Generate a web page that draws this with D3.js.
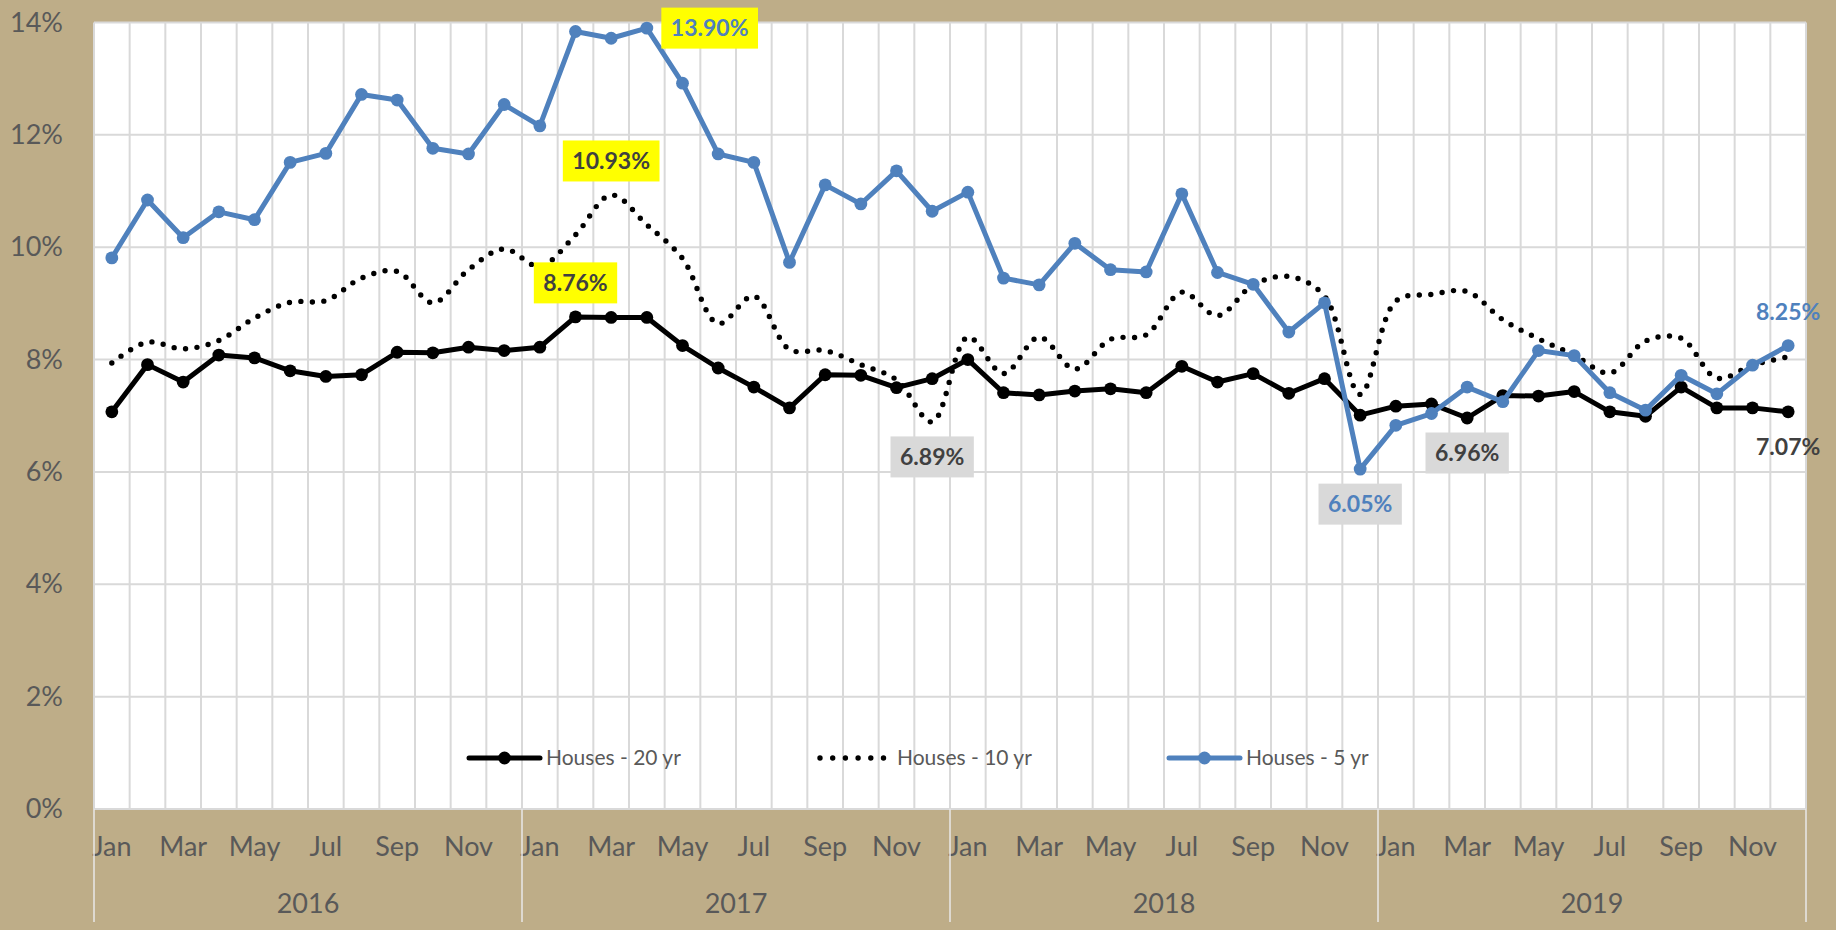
<!DOCTYPE html>
<html>
<head>
<meta charset="utf-8">
<script src="https://cdn.jsdelivr.net/npm/d3@7"></script>
<style>
  body { margin: 0; background: #bead88; }
  svg { display: block; font-family: Lato, "Open Sans", sans-serif; }
</style>
</head>
<body>
<svg id="chart" width="1836" height="930"></svg>
<script>
// data (percent)
const months = ["Jan", "Feb", "Mar", "Apr", "May", "Jun", "Jul", "Aug", "Sep", "Oct", "Nov", "Dec"];
const years = ["2016", "2017", "2018", "2019"];
const yTicks = [0, 2, 4, 6, 8, 10, 12, 14];

const houses20 = [7.07, 7.91, 7.60, 8.08, 8.03, 7.80, 7.70, 7.73, 8.13, 8.12, 8.22, 8.16,
  8.22, 8.76, 8.75, 8.75, 8.25, 7.85, 7.51, 7.14, 7.73, 7.72, 7.50, 7.66,
  8.00, 7.41, 7.37, 7.44, 7.48, 7.41, 7.88, 7.60, 7.75, 7.40, 7.66, 7.01,
  7.17, 7.21, 6.96, 7.36, 7.35, 7.43, 7.07, 6.99, 7.51, 7.14, 7.14, 7.07];
const houses10 = [7.94, 8.31, 8.19, 8.34, 8.74, 9.02, 9.05, 9.45, 9.57, 9.01, 9.60, 9.97,
  9.66, 10.22, 10.93, 10.40, 9.80, 8.64, 9.13, 8.18, 8.16, 7.91, 7.64, 6.89,
  8.40, 7.75, 8.40, 7.83, 8.36, 8.44, 9.20, 8.78, 9.33, 9.48, 9.13, 7.38,
  9.04, 9.16, 9.21, 8.71, 8.37, 8.08, 7.76, 8.33, 8.38, 7.67, 7.90, 8.05];
const houses5 = [9.81, 10.84, 10.17, 10.63, 10.49, 11.51, 11.67, 12.72, 12.62, 11.76, 11.66, 12.54,
  12.16, 13.84, 13.72, 13.90, 12.92, 11.66, 11.51, 9.73, 11.11, 10.77, 11.36, 10.64,
  10.98, 9.45, 9.33, 10.07, 9.60, 9.56, 10.95, 9.55, 9.34, 8.49, 9.01, 6.05,
  6.83, 7.04, 7.51, 7.25, 8.16, 8.07, 7.41, 7.10, 7.72, 7.39, 7.90, 8.25];

const seriesNames = ["Houses - 20 yr", "Houses - 10 yr", "Houses - 5 yr"];

// which points get a callout
const callouts = [
  { series: 0, index: 13, side: "above", fill: "#ffff00" },
  { series: 1, index: 14, side: "above", fill: "#ffff00" },
  { series: 2, index: 15, side: "right", fill: "#ffff00" },
  { series: 1, index: 23, side: "below", fill: "#d9d9d9" },
  { series: 2, index: 35, side: "below", fill: "#d9d9d9" },
  { series: 0, index: 38, side: "below", fill: "#d9d9d9" },
  { series: 0, index: 47, side: "below", fill: "none" },
  { series: 2, index: 47, side: "above", fill: "none" },
];

const blue = "#4f81bd";
const axisGrey = "#595959";
const labelDark = "#404040";

const plotLeft = 94, plotRight = 1806, plotTop = 22.5, plotBottom = 809;
const svg = d3.select("#chart");

const n = houses20.length;
const x = d3.scaleBand().domain(d3.range(n)).range([plotLeft, plotRight]);
const cx = i => x(i) + x.bandwidth() / 2;
const y = d3.scaleLinear().domain([0, 14]).range([plotBottom, plotTop]);
const yearX = d3.scaleBand().domain(years).range([plotLeft, plotRight]);

// plot background
svg.append("rect")
  .attr("x", plotLeft).attr("y", plotTop)
  .attr("width", plotRight - plotLeft).attr("height", plotBottom - plotTop)
  .attr("fill", "#fff");

// gridlines
const grid = svg.append("g").attr("stroke", "#d9d9d9").attr("stroke-width", 2);
d3.range(n + 1).forEach(k => {
  const gx = k < n ? x(k) : plotRight;
  grid.append("line").attr("x1", gx).attr("x2", gx).attr("y1", plotTop).attr("y2", plotBottom);
});
yTicks.forEach(t => {
  grid.append("line").attr("x1", plotLeft).attr("x2", plotRight).attr("y1", y(t)).attr("y2", y(t));
});

// y axis
svg.append("g")
  .attr("transform", `translate(${plotLeft},0)`)
  .call(d3.axisLeft(y).tickValues(yTicks).tickSize(0).tickPadding(31).tickFormat(d => d + "%"))
  .call(g => g.select(".domain").remove())
  .call(g => g.selectAll("text").attr("fill", axisGrey).attr("font-size", 27).attr("font-family", "Lato"));

// month labels
svg.append("g")
  .attr("transform", `translate(0,${plotBottom})`)
  .call(d3.axisBottom(x).tickValues(d3.range(0, n, 2)).tickSize(0).tickPadding(28)
    .tickFormat(i => months[i % 12]))
  .call(g => g.select(".domain").remove())
  .call(g => g.selectAll("text").attr("fill", axisGrey).attr("font-size", 27).attr("font-family", "Lato"));

// year labels
svg.append("g")
  .attr("transform", `translate(0,${plotBottom})`)
  .call(d3.axisBottom(yearX).tickSize(0).tickPadding(85))
  .call(g => g.select(".domain").remove())
  .call(g => g.selectAll("text").attr("fill", axisGrey).attr("font-size", 27).attr("font-family", "Lato"));

// year separators
d3.range(years.length + 1).forEach(k => {
  const sx = k < years.length ? yearX(years[k]) : plotRight;
  svg.append("line")
    .attr("x1", sx).attr("x2", sx).attr("y1", plotBottom).attr("y2", 922)
    .attr("stroke", "#e8e8e8").attr("stroke-width", 1.5);
});

// lines
const straight = d3.line().x((d, i) => cx(i)).y(d => y(d));
const smooth = d3.line().x((d, i) => cx(i)).y(d => y(d)).curve(d3.curveCatmullRom.alpha(0.5));

svg.append("path")
  .attr("d", straight(houses20))
  .attr("fill", "none").attr("stroke", "#000").attr("stroke-width", 5)
  .attr("stroke-linejoin", "round");
svg.append("g").selectAll("circle")
  .data(houses20).join("circle")
  .attr("cx", (d, i) => cx(i)).attr("cy", d => y(d)).attr("r", 6.4).attr("fill", "#000");

svg.append("path")
  .attr("d", smooth(houses10))
  .attr("fill", "none").attr("stroke", "#000").attr("stroke-width", 5.4)
  .attr("stroke-linecap", "round").attr("stroke-dasharray", "0 11.5");

svg.append("path")
  .attr("d", straight(houses5))
  .attr("fill", "none").attr("stroke", blue).attr("stroke-width", 5)
  .attr("stroke-linejoin", "round");
svg.append("g").selectAll("circle")
  .data(houses5).join("circle")
  .attr("cx", (d, i) => cx(i)).attr("cy", d => y(d)).attr("r", 6.4).attr("fill", blue);

// legend
const legendY = 758;
const legend = svg.append("g").attr("font-size", 21).attr("fill", axisGrey);
const legendItems = [
  { x: 469, color: "#000", dotted: false },
  { x: 820, color: "#000", dotted: true },
  { x: 1169, color: blue, dotted: false },
];
legendItems.forEach((it, k) => {
  const g = legend.append("g").attr("transform", `translate(${it.x},${legendY})`);
  if (it.dotted) {
    g.append("line").attr("x1", 0).attr("x2", 64).attr("y1", 0).attr("y2", 0)
      .attr("stroke", it.color).attr("stroke-width", 5.4)
      .attr("stroke-linecap", "round").attr("stroke-dasharray", "0 12.7");
  } else {
    g.append("line").attr("x1", 0).attr("x2", 71).attr("y1", 0).attr("y2", 0)
      .attr("stroke", it.color).attr("stroke-width", 5).attr("stroke-linecap", "round");
    g.append("circle").attr("cx", 35.5).attr("cy", 0).attr("r", 6.4).attr("fill", it.color);
  }
  g.append("text").attr("x", 77).attr("y", 0).attr("dy", "0.35em")
    .attr("fill", axisGrey).text(seriesNames[k]);
});

// callouts
const allSeries = [houses20, houses10, houses5];
const cl = svg.append("g").attr("font-size", 23).attr("font-weight", "bold");
callouts.forEach(c => {
  const v = allSeries[c.series][c.index];
  const px = cx(c.index), py = y(v);
  let tx = px, ty = py;
  if (c.side === "above") ty = py - 34;
  if (c.side === "below") ty = py + 35;
  if (c.side === "right") tx = px + 24;
  const t = cl.append("text")
    .attr("text-anchor", c.side === "right" ? "start" : "middle")
    .attr("fill", c.series === 2 ? blue : labelDark)
    .attr("x", tx).attr("y", ty)
    .attr("dy", "0.35em")
    .text(v.toFixed(2) + "%");
  if (c.fill !== "none") {
    const b = t.node().getBBox();
    cl.insert("rect", () => t.node())
      .attr("x", b.x - 9.5).attr("y", ty - 20.5)
      .attr("width", b.width + 19).attr("height", 41)
      .attr("fill", c.fill);
  }
});
</script>
</body>
</html>
